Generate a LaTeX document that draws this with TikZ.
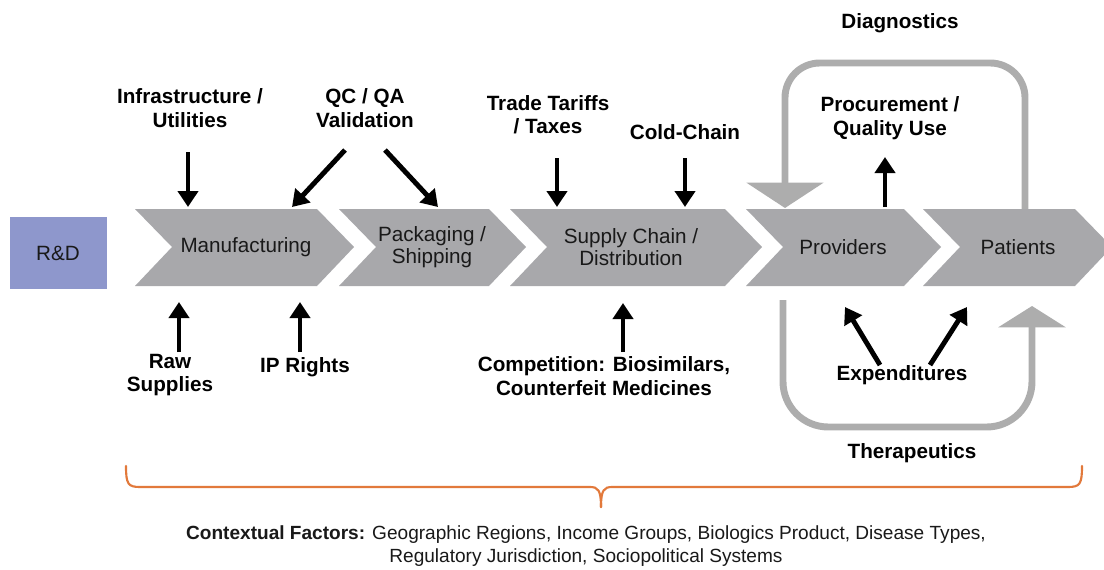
\documentclass[tikz,border=0pt]{standalone}
\usepackage{fontspec}
\setmainfont{Liberation Sans}
\usetikzlibrary{arrows.meta}
\definecolor{chevgray}{HTML}{A8A8AB}
\definecolor{loopgray}{HTML}{ADADAD}
\definecolor{rdblue}{HTML}{8E97CC}
\definecolor{braceor}{HTML}{E2793B}
\newcommand\chevshape[2]{\fill[chev] (#1,209) -- ({#2-37},209) -- (#2,247) -- ({#2-37},286) -- (#1,286) -- ({#1+37},247) -- cycle;}
\begin{document}
\begin{tikzpicture}[x=0.75pt,y=-0.75pt,
  lbl/.style={font=\fontsize{15.5}{17.5}\selectfont\bfseries, align=center, text=black, inner sep=0pt},
  ctext/.style={font=\fontsize{15.5}{16.5}\selectfont, align=center, text=black!90, inner sep=0pt},
  chev/.style={fill=chevgray},
  blk/.style={line width=3.7pt, -{Triangle[width=15pt,length=12pt]}},
  loopline/.style={draw=loopgray, line width=5.2pt},
  bracestyle/.style={draw=braceor, line width=1.6pt, line cap=round},
]
\useasboundingbox[fill=white] (0,0) rectangle (1104,569);

% R&D box
\fill[rdblue] (10,217) rectangle (107,289);
\node[ctext] (rd) at (58,253) {R\&D};

% chevrons
\chevshape{135}{354}
\chevshape{339}{526}
\chevshape{510}{762}
\chevshape{746}{941}
\chevshape{923}{1112}
\node[ctext] (man) at (246,247) {Manufacturing};
\node[ctext] (pack) at (432,247) {Packaging /\\Shipping};
\node[ctext] (sup) at (631,247) {Supply Chain /\\Distribution};
\node[ctext] (prov) at (843,247) {Providers};
\node[ctext] (pat) at (1018,247) {Patients};

% labels
\node[lbl] (infra) at (190,108) {Infrastructure /\\Utilities};
\node[lbl] (qc) at (365,108) {QC / QA\\Validation};
\node[lbl] (trade) at (548,115) {Trade Tariffs\\/ Taxes};
\node[lbl] (cold) at (685,132) {Cold-Chain};
\node[lbl] (diag) at (900,23) {Diagnostics};
\node[lbl] (proc) at (890,118) {Procurement /\\Quality Use};
\node[lbl] (raw) at (170,375) {Raw\\Supplies};
\node[lbl] (ip) at (305,367) {IP Rights};
\node[lbl] (comp) at (604,376) {Competition: Biosimilars,\\Counterfeit Medicines};
\node[lbl] (exp) at (902,375) {Expenditures};
\node[lbl] (ther) at (912,453) {Therapeutics};

% arrow end points
\coordinate (infraS) at (188,152);  \coordinate (manT1) at (188,207);
\coordinate (qcL) at (345,150);     \coordinate (manT2) at (292,207);
\coordinate (qcR) at (385,150);     \coordinate (packT) at (438,207);
\coordinate (tradeS) at (557,158);  \coordinate (supT1) at (557,207);
\coordinate (coldS) at (685,158);   \coordinate (supT2) at (685,207);
\coordinate (provT) at (885,207);   \coordinate (procS) at (885,157);
\coordinate (rawN) at (179,352);    \coordinate (manB1) at (179,302);
\coordinate (ipN) at (300,352);     \coordinate (manB2) at (300,302);
\coordinate (compN) at (623,352);   \coordinate (supB) at (623,303);
\coordinate (expL) at (880,365);    \coordinate (provB) at (845,307);
\coordinate (expR) at (930,365);    \coordinate (patB) at (967,307);

\draw[blk] (infraS) -- (manT1);
\draw[blk] (qcL) -- (manT2);
\draw[blk] (qcR) -- (packT);
\draw[blk] (tradeS) -- (supT1);
\draw[blk] (coldS) -- (supT2);
\draw[blk] (provT) -- (procS);
\draw[blk] (rawN) -- (manB1);
\draw[blk] (ipN) -- (manB2);
\draw[blk] (compN) -- (supB);
\draw[blk] (expL) -- (provB);
\draw[blk] (expR) -- (patB);

% loops
\coordinate (patTop) at (1025,209);
\coordinate (provTop) at (785,208);
\coordinate (provBot) at (783,300);
\coordinate (patBot) at (1032,306);
\draw[loopline, rounded corners=26pt, -{Triangle[width=57pt,length=19pt]}]
  (patTop) -- (1025,63) -- (785,63) -- (provTop);
\draw[loopline, rounded corners=34pt, -{Triangle[width=50pt,length=16pt]}]
  (provBot) -- (783,427) -- (1032,427) -- (patBot);

% brace
\coordinate (brL) at (126,466);
\coordinate (brR) at (1082,466);
\coordinate (brM) at (601,507);
\draw[bracestyle] (brL) .. controls (126,484) and (128,487) .. (140,487) -- (590,487)
  .. controls (598,487) and (601,490) .. (brM);
\draw[bracestyle] (brR) .. controls (1082,484) and (1080,487) .. (1068,487) -- (612,487)
  .. controls (604,487) and (601,490) .. (brM);

\node[font=\fontsize{14.3}{17.5}\selectfont, align=center, inner sep=0pt, text=black!90] (ctx) at (586,546)
  {\textbf{Contextual Factors:} Geographic Regions, Income Groups, Biologics Product, Disease Types,\\Regulatory Jurisdiction, Sociopolitical Systems};
\end{tikzpicture}
\end{document}
